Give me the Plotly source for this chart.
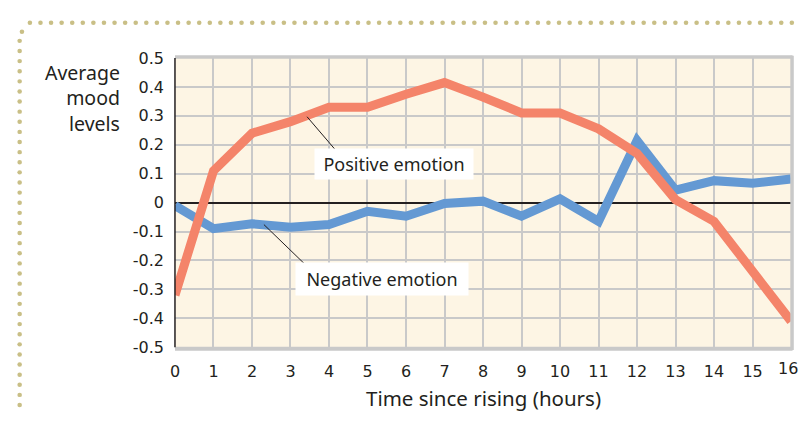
import plotly.graph_objects as go

# The page body keeps its default 8px margin, so the figure is sized to fit inside the 807x432 window.
OFF = 8
W, H = 807 - 2 * OFF, 432 - 2 * OFF

hours = list(range(17))
positive = [-0.32, 0.11, 0.24, 0.28, 0.33, 0.33, 0.375, 0.415, 0.365, 0.31, 0.31, 0.255, 0.17, 0.01, -0.065, -0.24, -0.41]
negative = [-0.01, -0.09, -0.073, -0.085, -0.076, -0.03, -0.047, -0.003, 0.005, -0.047, 0.013, -0.065, 0.215, 0.043, 0.076, 0.067, 0.082]
y_tickvals = [0.5, 0.4, 0.3, 0.2, 0.1, 0, -0.1, -0.2, -0.3, -0.4, -0.5]
y_ticktext = ["0.5", "0.4", "0.3", "0.2", "0.1", "0", "-0.1", "-0.2", "-0.3", "-0.4", "-0.5"]
x_ticktext = [str(h) for h in hours]

ORANGE = "#F4846A"
BLUE = "#6499D3"
GRID = "#C9C9C9"
BG = "#FDF5E4"
TXT = "#231F20"
DOT = "#C9BF86"

# plot area in window pixels
L, R, T, B = 171, 791, 51, 354
px = lambda x: (x - OFF) / W
py = lambda y: 1 - (y - OFF) / H

fig = go.Figure()
fig.add_trace(go.Scatter(x=hours, y=negative, mode="lines", line=dict(color=BLUE, width=9),
                         hoverinfo="skip", showlegend=False))
fig.add_trace(go.Scatter(x=hours, y=positive, mode="lines", line=dict(color=ORANGE, width=9),
                         hoverinfo="skip", showlegend=False))

shapes = []
# frame: gray top/bottom/right, black left
shapes.append(dict(type="line", xref="paper", yref="paper", x0=px(L), x1=px(R + 1.5), y0=py(T - 1), y1=py(T - 1),
                   line=dict(color=GRID, width=3.5)))
shapes.append(dict(type="line", xref="paper", yref="paper", x0=px(L), x1=px(R + 1.5), y0=py(B + 1.5), y1=py(B + 1.5),
                   line=dict(color=GRID, width=4)))
shapes.append(dict(type="line", xref="paper", yref="paper", x0=px(R + 1), x1=px(R + 1), y0=py(T - 2.5), y1=py(B + 3),
                   line=dict(color=GRID, width=3.5)))
shapes.append(dict(type="line", xref="paper", yref="paper", x0=px(L), x1=px(L), y0=py(T), y1=py(B),
                   line=dict(color="#231F20", width=1.5)))
# leader lines
shapes.append(dict(type="line", xref="x", yref="y", x0=3.43, y0=0.297, x1=4.15, y1=0.185,
                   line=dict(color="#231F20", width=1)))
shapes.append(dict(type="line", xref="x", yref="y", x0=2.31, y0=-0.076, x1=3.39, y1=-0.215,
                   line=dict(color="#231F20", width=1)))

# dotted decorative border
r = 2.3
def dot(x, y):
    shapes.append(dict(type="circle", xref="paper", yref="paper",
                       x0=px(x - r), x1=px(x + r), y0=py(y + r), y1=py(y - r),
                       fillcolor=DOT, line=dict(width=0)))
x = 25.0
while x < 797:
    dot(x, 14)
    x += 10.65
dot(17, 23.5)
y = 33.0
while y < 422:
    dot(14.7, y)
    y += 10.6

fig.update_layout(shapes=shapes)

fig.add_annotation(x=5.677, y=0.135, xref="x", yref="y", text="Positive emotion", showarrow=False,
                   font=dict(family="Noto Sans", size=18, color=TXT), bgcolor="white",
                   width=152, height=24, borderpad=3)
fig.add_annotation(x=5.368, y=-0.264, xref="x", yref="y", text="Negative emotion", showarrow=False,
                   font=dict(family="Noto Sans", size=18, color=TXT), bgcolor="white",
                   width=166, height=26, borderpad=3)

fig.add_annotation(x=px(118), y=py(93), xref="paper", yref="paper", xanchor="right", yanchor="middle",
                   text="Average<br>mood<br>levels", align="right", showarrow=False,
                   font=dict(family="Noto Sans", size=19.5, color=TXT))
fig.add_annotation(x=px(481), y=py(407), xref="paper", yref="paper", xanchor="center", yanchor="middle",
                   text="Time since rising (hours)", showarrow=False,
                   font=dict(family="Noto Sans", size=20.5, color=TXT))

# last x tick label: drawn at x=16 but nudged inward so it stays inside the page
axis_labels = x_ticktext[:-1] + [""]
fig.add_annotation(x=hours[-1], y=py(B + 22), xref="x", yref="paper", text=x_ticktext[-1],
                   showarrow=False, xanchor="center", yanchor="middle", xshift=-3,
                   font=dict(family="DejaVu Sans", size=16, color=TXT))

fig.update_layout(
    width=W, height=H,
    margin=dict(l=0, r=0, t=0, b=0),
    paper_bgcolor="white",
    plot_bgcolor=BG,
    showlegend=False,
    xaxis=dict(domain=[px(L), px(R)], range=[0, 16], tickvals=hours, ticktext=axis_labels,
               showgrid=True, gridcolor=GRID, gridwidth=2, zeroline=False, showline=False,
               ticks="", ticklabelstandoff=13,
               tickfont=dict(family="DejaVu Sans", size=16, color=TXT), fixedrange=True),
    yaxis=dict(domain=[py(B), py(T)], range=[-0.5, 0.5], tickvals=y_tickvals, ticktext=y_ticktext,
               showgrid=True, gridcolor=GRID, gridwidth=2, zeroline=True, zerolinecolor="#231F20",
               zerolinewidth=1.5, showline=False, ticks="", ticklabelstandoff=10,
               tickfont=dict(family="DejaVu Sans", size=16, color=TXT), fixedrange=True),
)

fig.write_html("out.html", config={"displayModeBar": False})
